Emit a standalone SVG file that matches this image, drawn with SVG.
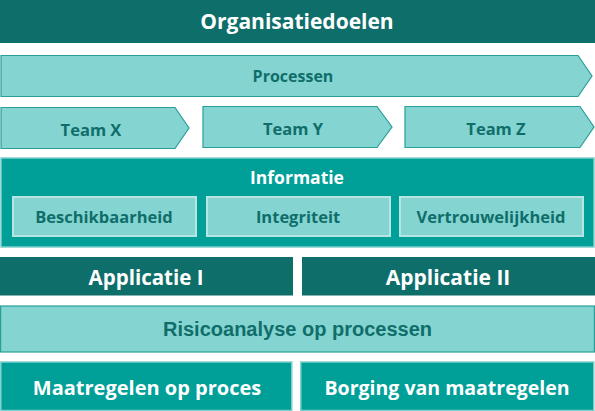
<svg xmlns="http://www.w3.org/2000/svg" width="595" height="411" viewBox="0 0 595 411">
<style>
.dark{fill:#0e6e6a;}
.mid{fill:#00a099;stroke:#7fcfcb;stroke-width:1.5;}
.light{fill:#84d4d1;stroke:#2a9e99;stroke-width:1.2;}
.sub{fill:#84d4d1;stroke:#b5e6e3;stroke-width:2;}
.t{font-family:"Open Sans","DejaVu Sans",sans-serif;font-weight:bold;text-anchor:middle;dominant-baseline:central;}
.w{fill:#ffffff;}
.d{fill:#106e6a;}
</style>
<rect width="595" height="411" fill="#ffffff"/>
<g id="organisatiedoelen">
<rect class="dark" x="0" y="0" width="595" height="43"/>
<text class="t w" x="297" y="21" font-size="21">Organisatiedoelen</text>
</g>
<g id="processen">
<polygon class="light" points="1,55.5 578,55.5 592,76 578,96.5 1,96.5"/>
<text class="t d" x="293" y="76" font-size="16">Processen</text>
</g>
<g id="team-x">
<polygon class="light" points="1,107.5 175,107.5 189,128 175,148.5 1,148.5"/>
<text class="t d" x="91" y="129" font-size="16.5">Team X</text>
</g>
<g id="team-y">
<polygon class="light" points="203,106.5 377,106.5 392,127 377,147.5 203,147.5"/>
<text class="t d" x="293" y="128" font-size="16.5">Team Y</text>
</g>
<g id="team-z">
<polygon class="light" points="405,106.5 580,106.5 594,127 580,147.5 405,147.5"/>
<text class="t d" x="496" y="128" font-size="16.5">Team Z</text>
</g>
<g id="informatie">
<rect class="mid" x="1" y="158" width="593" height="89"/>
<text class="t w" x="297" y="177" font-size="17.5">Informatie</text>
</g>
<g id="beschikbaarheid">
<rect class="sub" x="13" y="197" width="183" height="39"/>
<text class="t d" x="104" y="216.5" font-size="16.5">Beschikbaarheid</text>
</g>
<g id="integriteit">
<rect class="sub" x="207" y="197" width="183" height="39"/>
<text class="t d" x="298" y="216.5" font-size="16.5">Integriteit</text>
</g>
<g id="vertrouwelijkheid">
<rect class="sub" x="400" y="197" width="183" height="39"/>
<text class="t d" x="491" y="216.5" font-size="16.5">Vertrouwelijkheid</text>
</g>
<g id="applicatie-i">
<rect class="dark" x="0" y="257" width="293" height="38.5"/>
<text class="t w" x="146" y="277" font-size="20.5">Applicatie I</text>
</g>
<g id="applicatie-ii">
<rect class="dark" x="302" y="257" width="293" height="38.5"/>
<text class="t w" x="448" y="277" font-size="21">Applicatie II</text>
</g>
<g id="risicoanalyse">
<rect class="light" x="0.6" y="306" width="593.8" height="46"/>
<text x="297.5" y="329" font-family="'Liberation Sans',Arial,sans-serif" font-weight="bold" font-size="20" text-anchor="middle" dominant-baseline="central" class="d">Risicoanalyse op processen</text>
</g>
<g id="maatregelen">
<rect class="mid" x="0.8" y="362" width="291" height="48.5"/>
<text class="t w" x="147" y="387" font-size="20">Maatregelen op proces</text>
</g>
<g id="borging">
<rect class="mid" x="300.8" y="362" width="293" height="48.5"/>
<text class="t w" x="447" y="387" font-size="19.5">Borging van maatregelen</text>
</g>
<g id="connectors"></g>
</svg>
